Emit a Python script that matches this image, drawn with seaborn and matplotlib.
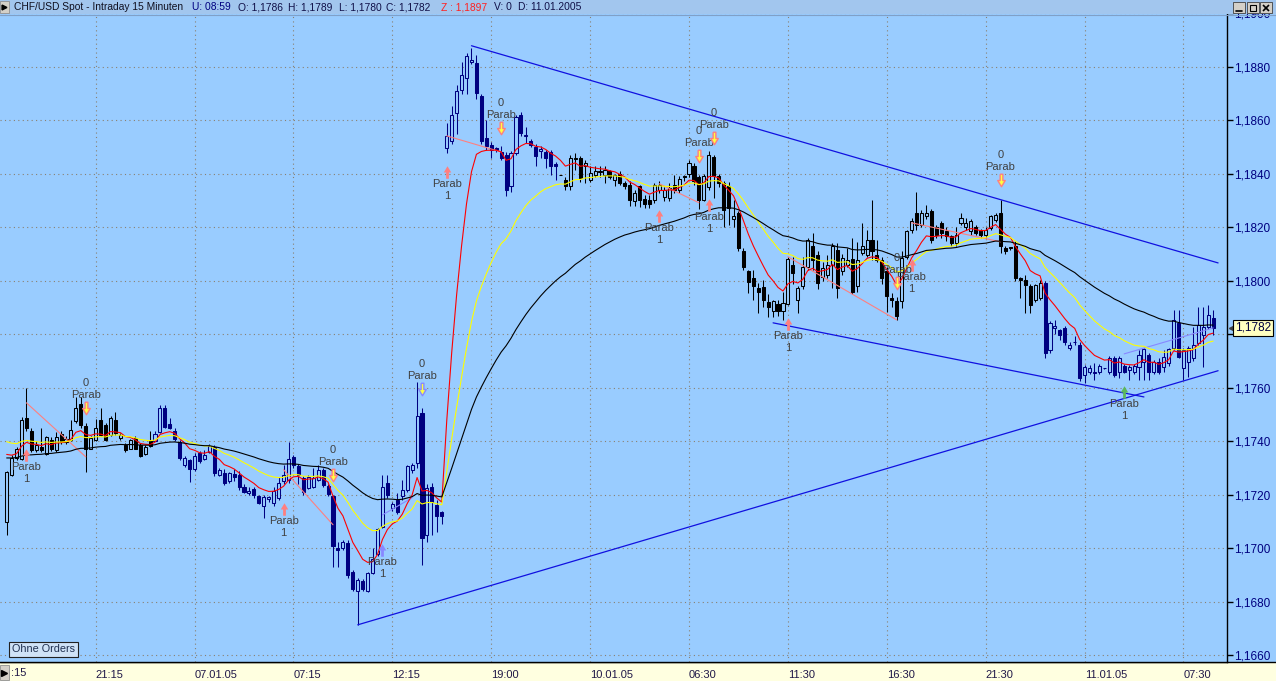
import numpy as np
import pandas as pd
import matplotlib
matplotlib.use("Agg")
import matplotlib.pyplot as plt
from matplotlib.patches import Rectangle
from matplotlib.lines import Line2D
from matplotlib.path import Path
import seaborn as sns

# CHF/USD Spot, 15 minute bars from 06.01.2005 to 11.01.2005
# prices are stored as pips above 1.1700
BASE = 1.1700

opens = [
    9.8, 27.5, 33.8, 33.5, 48.8, 43.8, 36.7, 37.8, 35.4, 40.4,
    36.7, 42.9, 39.8, 40.4, 47.5, 53.8, 45.7, 37.3, 40.4, 47.9,
    46.0, 42.3, 47.9, 41.1, 38.5, 37.3, 41.3, 38.8, 35.4, 40.3,
    40.1, 43.6, 52.6, 46.3, 43.8, 39.8, 31.1, 33.0, 29.8, 35.8,
    33.5, 36.0, 37.8, 27.5, 28.1, 25.0, 27.8, 27.5, 23.1, 20.6,
    22.1, 19.4, 15.9, 18.6, 16.9, 18.7, 25.0, 25.6, 34.1, 30.6,
    26.2, 22.5, 23.1, 25.6, 29.3, 23.3, 19.4, 0.3, 0.0, 1.9,
    -8.7, -15.8, -12.2, -15.8, -9.1, -2.1, 8.1, 24.3, 15.0, 18.1,
    19.4, 21.8, 29.3, 32.0, 50.5, 5.0, 23.1, 16.2, 13.4, 149.6,
    152.1, 162.7, 171.5, 175.8, 182.0, 181.4, 169.2, 153.3, 150.9, 149.6,
    148.0, 147.1, 135.3, 147.8, 162.1, 154.2, 152.1, 150.0, 148.5, 148.0,
    148.0, 143.6, 139.5, 137.8, 135.3, 145.5, 145.9, 143.0, 137.8, 139.7,
    140.6, 139.4, 140.9, 137.8, 140.0, 136.5, 135.9, 130.0, 135.3, 130.5,
    130.3, 130.3, 134.0, 131.5, 130.9, 135.9, 134.0, 139.3, 140.0, 143.0,
    138.8, 130.3, 135.0, 146.2, 139.3, 136.5, 135.3, 123.0, 125.3, 111.0,
    103.5, 101.0, 97.2, 97.6, 92.0, 88.9, 91.3, 88.9, 91.4, 106.0,
    92.9, 97.9, 105.3, 113.1, 109.7, 101.6, 102.3, 106.0, 111.4, 103.5,
    106.0, 108.1, 97.9, 110.4, 109.7, 115.4, 109.7, 107.9, 103.5, 93.6,
    92.6, 92.3, 109.1, 119.1, 125.3, 121.0, 124.1, 126.0, 120.3, 121.6,
    118.5, 116.6, 114.1, 121.6, 120.3, 118.5, 120.3, 119.1, 117.2, 119.7,
    122.8, 125.3, 112.2, 112.5, 113.0, 101.0, 100.4, 97.9, 92.9, 93.5,
    99.1, 74.2, 82.4, 81.7, 82.3, 74.8, 77.0, 76.1, 64.8, 66.1,
    65.5, 66.1, 67.4, 66.1, 71.1, 66.1, 68.2, 66.7, 66.1, 67.9,
    69.8, 72.3, 66.1, 69.8, 67.9, 69.2, 74.8, 84.2, 67.3, 69.8,
    71.1, 76.7, 79.8, 82.9, 86.0,
]
highs = [
    28.9, 34.8, 38.0, 49.0, 59.8, 45.0, 40.0, 44.8, 42.0, 41.5,
    43.5, 44.0, 42.0, 47.9, 56.7, 56.7, 47.0, 42.0, 48.5, 52.3,
    47.0, 49.5, 51.0, 43.0, 39.5, 41.0, 42.0, 39.5, 38.5, 44.0,
    44.0, 53.5, 53.5, 48.8, 45.0, 40.5, 34.5, 33.5, 35.5, 36.5,
    36.7, 39.0, 38.5, 30.0, 29.5, 28.5, 29.5, 29.0, 24.0, 23.0,
    23.0, 20.0, 20.0, 19.5, 23.0, 26.8, 31.2, 39.9, 35.0, 31.5,
    27.0, 27.5, 30.0, 31.2, 30.0, 24.0, 20.0, 2.5, 3.0, 3.0,
    -8.0, -11.0, -11.5, -8.7, 0.0, 7.5, 27.5, 27.5, 17.5, 20.5,
    25.6, 31.2, 32.0, 62.3, 52.5, 24.0, 24.5, 18.0, 14.0, 159.0,
    165.2, 173.3, 182.0, 185.2, 187.0, 184.5, 170.0, 160.0, 152.0, 150.0,
    150.3, 148.0, 148.4, 162.0, 163.3, 157.7, 153.0, 151.0, 150.5, 149.0,
    149.0, 144.6, 139.6, 139.0, 147.1, 147.8, 146.8, 145.0, 142.8, 142.8,
    142.8, 142.8, 141.5, 140.0, 141.0, 137.5, 137.2, 134.0, 136.0, 132.2,
    132.2, 136.5, 137.2, 135.0, 136.5, 139.6, 139.3, 139.6, 145.3, 144.0,
    139.6, 140.0, 148.4, 147.0, 140.0, 137.5, 137.0, 130.3, 126.0, 112.2,
    104.1, 104.0, 99.1, 100.4, 95.0, 92.9, 93.0, 96.0, 109.0, 109.0,
    98.0, 109.0, 116.0, 118.0, 111.0, 107.0, 109.7, 114.1, 114.1, 110.0,
    112.2, 116.0, 114.7, 121.6, 119.1, 130.3, 115.4, 109.0, 105.0, 95.4,
    94.0, 111.0, 119.1, 123.5, 133.4, 126.6, 128.4, 127.0, 121.0, 122.5,
    120.0, 117.0, 120.3, 125.3, 123.5, 123.0, 121.0, 119.5, 120.0, 124.7,
    125.3, 130.3, 113.0, 112.8, 115.0, 101.6, 102.0, 99.0, 99.0, 100.4,
    100.0, 85.0, 85.4, 82.0, 83.0, 77.3, 79.2, 77.0, 68.5, 68.5,
    69.2, 69.0, 67.5, 72.0, 72.0, 72.0, 69.0, 68.5, 69.0, 74.2,
    75.0, 73.0, 70.5, 71.0, 74.2, 75.0, 89.1, 89.1, 75.0, 75.5,
    82.9, 90.4, 90.4, 91.0, 89.1,
]
lows = [
    4.8, 27.0, 33.0, 33.0, 44.0, 36.0, 36.0, 36.0, 35.0, 36.5,
    36.0, 39.0, 39.0, 40.0, 47.0, 45.0, 28.5, 37.0, 40.0, 42.0,
    40.0, 42.0, 42.5, 40.5, 36.0, 37.0, 37.0, 34.0, 35.0, 38.0,
    40.0, 43.0, 45.0, 44.5, 40.0, 33.0, 30.5, 24.8, 29.0, 32.0,
    33.0, 35.5, 27.0, 27.0, 23.5, 24.5, 25.0, 21.8, 20.5, 20.0,
    19.0, 16.5, 11.2, 17.5, 16.0, 18.0, 24.0, 24.3, 30.0, 24.0,
    20.0, 22.0, 22.5, 25.0, 23.0, 19.5, -6.8, -6.8, -0.5, -11.0,
    -16.0, -28.7, -16.0, -16.5, -9.5, -3.0, 7.5, 19.0, 14.0, 13.0,
    18.0, 21.0, 28.0, 30.0, -6.2, 2.5, 5.0, 6.0, 9.1, 147.8,
    151.0, 155.0, 170.0, 170.0, 181.0, 168.0, 151.0, 149.0, 145.9, 148.0,
    145.0, 131.9, 133.4, 147.0, 154.0, 151.5, 150.0, 142.8, 146.0, 142.1,
    139.6, 137.8, 139.4, 134.0, 134.0, 141.5, 137.0, 136.5, 137.0, 139.0,
    139.0, 136.5, 138.0, 135.3, 135.9, 134.5, 127.8, 128.0, 127.5, 127.2,
    127.2, 129.0, 133.0, 130.0, 130.0, 133.0, 133.0, 137.2, 139.0, 136.0,
    127.0, 129.7, 134.0, 131.0, 135.0, 120.3, 120.9, 120.3, 111.0, 104.0,
    95.4, 92.9, 87.9, 90.4, 86.6, 86.6, 87.0, 85.4, 91.0, 99.0,
    87.9, 97.0, 104.0, 104.0, 97.0, 100.0, 101.0, 97.3, 93.5, 102.0,
    105.0, 95.0, 96.0, 109.7, 109.0, 107.9, 107.0, 99.0, 88.5, 90.4,
    85.4, 89.8, 108.0, 118.0, 119.0, 120.0, 123.0, 114.0, 116.0, 116.0,
    115.0, 113.0, 113.0, 121.0, 119.0, 117.0, 117.0, 116.0, 116.0, 119.0,
    122.0, 110.3, 110.0, 111.5, 100.0, 93.5, 87.9, 87.9, 92.0, 93.0,
    71.1, 73.0, 80.0, 78.0, 76.0, 74.2, 76.0, 62.4, 61.7, 65.0,
    63.0, 65.0, 67.2, 65.0, 64.0, 63.5, 65.5, 63.0, 65.0, 63.0,
    63.0, 63.0, 65.0, 65.0, 66.0, 68.0, 74.0, 71.0, 63.0, 64.2,
    70.0, 76.0, 67.9, 82.0, 79.8,
]
closes = [
    28.5, 33.8, 37.3, 47.9, 44.8, 36.7, 38.5, 36.7, 41.7, 37.3,
    41.7, 39.8, 41.0, 44.2, 52.5, 46.1, 37.3, 41.3, 44.8, 42.3,
    40.4, 48.8, 43.0, 42.3, 36.7, 40.4, 37.3, 34.6, 37.8, 38.3,
    42.9, 52.6, 45.4, 45.1, 40.8, 33.8, 33.8, 29.8, 34.6, 32.6,
    34.8, 38.3, 28.3, 29.3, 24.3, 28.1, 26.5, 23.1, 21.2, 21.5,
    20.0, 17.1, 19.1, 19.1, 21.6, 24.3, 27.5, 33.3, 31.2, 27.5,
    21.2, 26.8, 26.2, 29.3, 23.7, 20.2, 1.0, -0.8, 2.3, -10.0,
    -15.3, -11.8, -15.3, -9.3, -4.1, 7.1, 23.1, 20.0, 16.6, 13.7,
    21.8, 30.6, 31.2, 49.3, 3.8, 22.5, 17.5, 11.9, 12.1, 154.0,
    162.1, 170.8, 177.1, 183.9, 182.5, 170.2, 152.1, 150.3, 149.0, 149.0,
    145.9, 134.0, 147.8, 161.2, 155.2, 154.5, 150.9, 146.8, 149.3, 145.9,
    142.8, 143.0, 139.4, 135.3, 145.9, 146.0, 138.4, 144.0, 140.3, 141.1,
    140.9, 141.3, 139.0, 139.4, 136.5, 135.5, 130.3, 132.8, 130.3, 128.8,
    128.8, 135.9, 135.9, 133.8, 134.7, 134.0, 138.0, 139.0, 144.0, 137.2,
    130.3, 139.3, 147.1, 139.3, 136.5, 126.5, 127.2, 124.3, 112.2, 105.3,
    99.7, 97.9, 96.0, 92.9, 90.1, 92.3, 88.9, 91.6, 108.2, 103.0,
    97.2, 105.0, 115.3, 107.9, 99.1, 104.8, 106.0, 112.9, 97.3, 108.5,
    107.9, 96.0, 107.9, 112.9, 115.4, 111.0, 107.9, 101.0, 94.2, 93.0,
    86.7, 108.5, 118.5, 122.2, 121.0, 125.3, 125.3, 115.4, 117.2, 117.9,
    116.6, 114.1, 117.2, 123.5, 121.6, 122.2, 117.9, 117.2, 119.1, 124.1,
    124.7, 113.0, 111.0, 112.2, 101.0, 100.4, 98.5, 91.0, 98.5, 99.1,
    72.9, 84.2, 83.0, 79.8, 77.3, 76.1, 77.2, 63.6, 67.9, 67.3,
    65.8, 68.2, 67.3, 71.1, 64.8, 71.1, 66.1, 67.9, 68.2, 72.3,
    74.4, 66.1, 69.8, 66.1, 71.4, 74.4, 85.4, 71.7, 74.2, 74.8,
    76.1, 83.5, 82.9, 87.3, 82.3,
]

# bars drawn in navy instead of black
navy_ranges = [(30, 111), (210, 244)]

# moving averages: colour, EMA span, value just before the first bar
ema_colors = ["#ff0000", "#ffff00", "#000000"]
ema_spans = [8, 21, 50]
ema_seeds = [1.1737, 1.1741, 1.1734]

# parabolic signals
up_idx = [4, 56, 76, 89, 132, 142, 158, 183, 226]
up_price = [1.17350, 1.17148, 1.16995, 1.18408, 1.18243, 1.18284, 1.17839, 1.18060, 1.17585]
up_color = ["#ff7f7f", "#ff7f7f", "#8888ff", "#ff7f7f", "#ff7f7f", "#ff7f7f", "#ff7f7f", "#ff7f7f", "#5cb85c"]
down_idx = [16, 66, 84, 100, 140, 143, 180, 201]
down_price = [1.17525, 1.17275, 1.17596, 1.18572, 1.18467, 1.18535, 1.17993, 1.18378]
down_color = ["#ff7f7f", "#ff7f7f", "#8888ff", "#ff7f7f", "#ff7f7f", "#ff7f7f", "#ff7f7f", "#ff7f7f"]

# parab stop lines
sar_start_idx = [4, 56, 89, 132, 158, 183, 76, 226]
sar_start_price = [1.17544, 1.17294, 1.18542, 1.18363, 1.18090, 1.18217, 1.17125, 1.17727]
sar_end_idx = [16, 66, 100, 140, 180, 201, 82, 244]
sar_end_price = [1.17342, 1.17088, 1.18482, 1.18292, 1.17854, 1.18146, 1.17189, 1.17824]
sar_color = ["#ff7f7f"] * 6 + ["#8888ff"] * 2

# hand drawn trend lines
trend_start_idx = [94, 71, 155]
trend_start_price = [1.18879, 1.16714, 1.17843]
trend_end_idx = [245, 245, 230]
trend_end_price = [1.18067, 1.17664, 1.17566]

time_tick_idx = [18, 38, 58, 78, 98, 118, 138, 158, 178, 198, 218, 238]
time_tick_labels = ["21:15", "07.01.05", "07:15", "12:15", "19:00", "10.01.05",
                    "06:30", "11:30", "16:30", "21:30", "11.01.05", "07:30"]
date_tick_idx = [30, 113, 209]
price_ticks = [1.1660, 1.1680, 1.1700, 1.1720, 1.1740, 1.1760, 1.1780,
               1.1800, 1.1820, 1.1840, 1.1860, 1.1880, 1.1900]
last_price = 1.1782

BG = "#99ccff"
NAVY = "#000080"
W, H = 1276, 681

sns.set_style("white")
plt.rcParams["font.family"] = ["Liberation Sans", "DejaVu Sans"]


def px(x, y):
    return x / W, 1 - y / H


def ema(values, span, seed):
    s = pd.Series(np.r_[seed, values])
    return s.ewm(span=span, adjust=False).mean().to_numpy()[1:]


o = BASE + np.array(opens) / 1e4
h = BASE + np.array(highs) / 1e4
l = BASE + np.array(lows) / 1e4
c = BASE + np.array(closes) / 1e4
idx = np.arange(len(c))

bar_col = np.array(["#000000"] * len(c), dtype=object)
for a, b in navy_ranges:
    bar_col[a:b + 1] = NAVY
rising = c >= o

fig = plt.figure(figsize=(W / 100, H / 100), dpi=100)
fig.patch.set_facecolor(BG)
ax = fig.add_axes([0, 19 / H, 1227 / W, 662 / H])
ax.set_facecolor(BG)

# grid; the price label under the last-price box is hidden in the original
ytick_labels = ["" if abs(v - 1.1780) < 1e-9 else f"{v:.4f}".replace(".", ",") for v in price_ticks]
ax.set_xticks(time_tick_idx, labels=time_tick_labels)
ax.set_xticks(date_tick_idx, minor=True)
ax.set_yticks(price_ticks, labels=ytick_labels)
ax.grid(True, which="major", color="#8a8070", linestyle=(0, (1, 3)), linewidth=0.8)
ax.set_axisbelow(True)

# candles
ax.vlines(idx, l, h, colors=list(bar_col), linewidth=0.75, zorder=3)
body_h = np.maximum(np.abs(c - o), 0.000015)
ax.bar(idx, body_h, bottom=np.minimum(o, c), width=0.62,
       color=[BG if r else col for r, col in zip(rising, bar_col)],
       edgecolor=list(bar_col), linewidth=0.75, zorder=4)

# moving averages
for col, span, seed in zip(ema_colors, ema_spans, ema_seeds):
    sns.lineplot(x=idx, y=ema(c, span, seed), color=col, linewidth=0.8, ax=ax, zorder=5)

# parab lines and trend lines
for i0, p0, i1, p1, col in zip(sar_start_idx, sar_start_price, sar_end_idx, sar_end_price, sar_color):
    ax.plot([i0, i1], [p0, p1], color=col, linewidth=0.8, zorder=4.5)
for i0, p0, i1, p1 in zip(trend_start_idx, trend_start_price, trend_end_idx, trend_end_price):
    ax.plot([i0, i1], [p0, p1], color="#1010e0", linewidth=0.9, zorder=6)

# signal arrows
arrow_up = Path([(-0.22, -1), (0.22, -1), (0.22, 0), (0.6, 0), (0, 1), (-0.6, 0), (-0.22, 0), (-0.22, -1)])
arrow_down = Path([(x, -y) for x, y in arrow_up.vertices])
txt = dict(textcoords="offset pixels", ha="center", va="center", fontsize=8, color="#404040", zorder=7)
for i, p, col in zip(up_idx, up_price, up_color):
    ax.plot(i, p, marker=arrow_up, markersize=9, color=col, markeredgecolor="none", zorder=7)
    ax.annotate("Parab", (i, p), xytext=(0, -12), **txt)
    ax.annotate("1", (i, p), xytext=(0, -24), **txt)
for i, p, col in zip(down_idx, down_price, down_color):
    ax.plot(i, p, marker=arrow_down, markersize=9, markerfacecolor="#ffff40",
            markeredgecolor=col, markeredgewidth=1, zorder=7)
    ax.annotate("Parab", (i, p), xytext=(0, 13), **txt)
    ax.annotate("0", (i, p), xytext=(0, 25), **txt)

ax.set_xlim(-1.35, 246.8)
ax.set_ylim(1.16575, 1.19050)

for s in ["top", "left"]:
    ax.spines[s].set_visible(False)
for s in ["right", "bottom"]:
    ax.spines[s].set_color("black")
    ax.spines[s].set_linewidth(1)
ax.yaxis.tick_right()
ax.tick_params(axis="y", direction="out", length=4, width=1, color="black", pad=1,
               labelsize=8.5, labelcolor=NAVY)
ax.tick_params(axis="x", which="major", direction="out", length=5, width=1, color="black",
               pad=0.5, labelsize=8, labelcolor="#201848")
ax.tick_params(axis="x", which="minor", direction="out", length=10, width=1, color="black")
for lbl in ax.get_xticklabels():
    lbl.set_horizontalalignment("left")
ax.set_xlabel("")
ax.set_ylabel("")

# bottom time strip
fig.add_artist(Rectangle((0, 0), 1, 19 / H, transform=fig.transFigure,
                         facecolor="#ffffe0", edgecolor="none", zorder=-2))
fig.add_artist(Line2D([0, 1], [19 / H, 19 / H], transform=fig.transFigure, color="black", linewidth=1, zorder=-1))
fig.add_artist(Rectangle(px(0, 680), 9 / W, 15 / H, transform=fig.transFigure,
                         facecolor="#d4d0c8", edgecolor="#909090", linewidth=0.6, zorder=6))
fig.add_artist(Line2D([4 / W], [1 - 673 / H], transform=fig.transFigure, marker=">", markersize=4,
                      color="black", linestyle="none", zorder=7))
fig.text(*px(11, 673), ":15", fontsize=8, color="#201848", va="center", ha="left")

# title bar
fig.add_artist(Rectangle(px(0, 14), 1, 14 / H, transform=fig.transFigure,
                         facecolor="#a2c6ee", edgecolor="none", zorder=5))
fig.add_artist(Line2D([0, 1], [1 - 14.5 / H] * 2, transform=fig.transFigure, color="#80a0c8", linewidth=0.8, zorder=5))
fig.add_artist(Rectangle(px(0, 13), 9 / W, 12 / H, transform=fig.transFigure,
                         facecolor="#d4d0c8", edgecolor="#909090", linewidth=0.6, zorder=6))
fig.add_artist(Line2D([4 / W], [1 - 7 / H], transform=fig.transFigure, marker=">", markersize=3.5,
                      color="black", linestyle="none", zorder=7))
title_parts = [(14, "CHF/USD Spot - Intraday 15 Minuten", "#101020"),
               (192, "U: 08:59", NAVY), (238, "O: 1,1786", "#101048"),
               (288, "H: 1,1789", "#101048"), (339, "L: 1,1780", "#101048"),
               (386, "C: 1,1782", "#101048"), (441, "Z : 1,1897", "#ff2020"),
               (494, "V: 0", "#101048"), (518, "D: 11.01.2005", "#101048")]
for x, s, col in title_parts:
    fig.text(*px(x, 7), s, fontsize=7.4, color=col, va="center", ha="left", zorder=6)

# window buttons (drawn as shapes)
for x0 in [1233, 1247, 1260]:
    fig.add_artist(Rectangle(px(x0, 13), 12 / W, 11 / H, transform=fig.transFigure,
                             facecolor="#d4d0c8", edgecolor="#404040", linewidth=0.6, zorder=6))
fig.add_artist(Line2D([1236 / W, 1242 / W], [1 - 10.5 / H] * 2, transform=fig.transFigure,
                      color="black", linewidth=1.2, zorder=7))
fig.add_artist(Rectangle(px(1250, 11), 6 / W, 6 / H, transform=fig.transFigure,
                         facecolor="none", edgecolor="black", linewidth=0.8, zorder=7))
fig.add_artist(Line2D([1266 / W], [1 - 7.5 / H], transform=fig.transFigure, marker="x", markersize=4.5,
                      markeredgewidth=1.2, color="black", linestyle="none", zorder=7))

# last price marker and order box
fig.add_artist(Line2D([1230.5 / W], [1 - 328 / H], transform=fig.transFigure, marker="<", markersize=3,
                      color="#404040", linestyle="none", zorder=6))
fig.text(*px(1235, 328), f"{last_price:.4f}".replace(".", ","), fontsize=8.5, color="#000040",
         va="center", ha="left", zorder=7,
         bbox=dict(boxstyle="square,pad=0.15", facecolor="#ffffc0", edgecolor="black", linewidth=0.8))
fig.text(*px(12, 649.5), "Ohne Orders", fontsize=7.8, color="#203050", va="center", ha="left", zorder=7,
         bbox=dict(boxstyle="square,pad=0.25", facecolor="#cfe2f6", edgecolor="#202020", linewidth=0.8))

fig.savefig("out.png", dpi=100, facecolor=fig.get_facecolor())
